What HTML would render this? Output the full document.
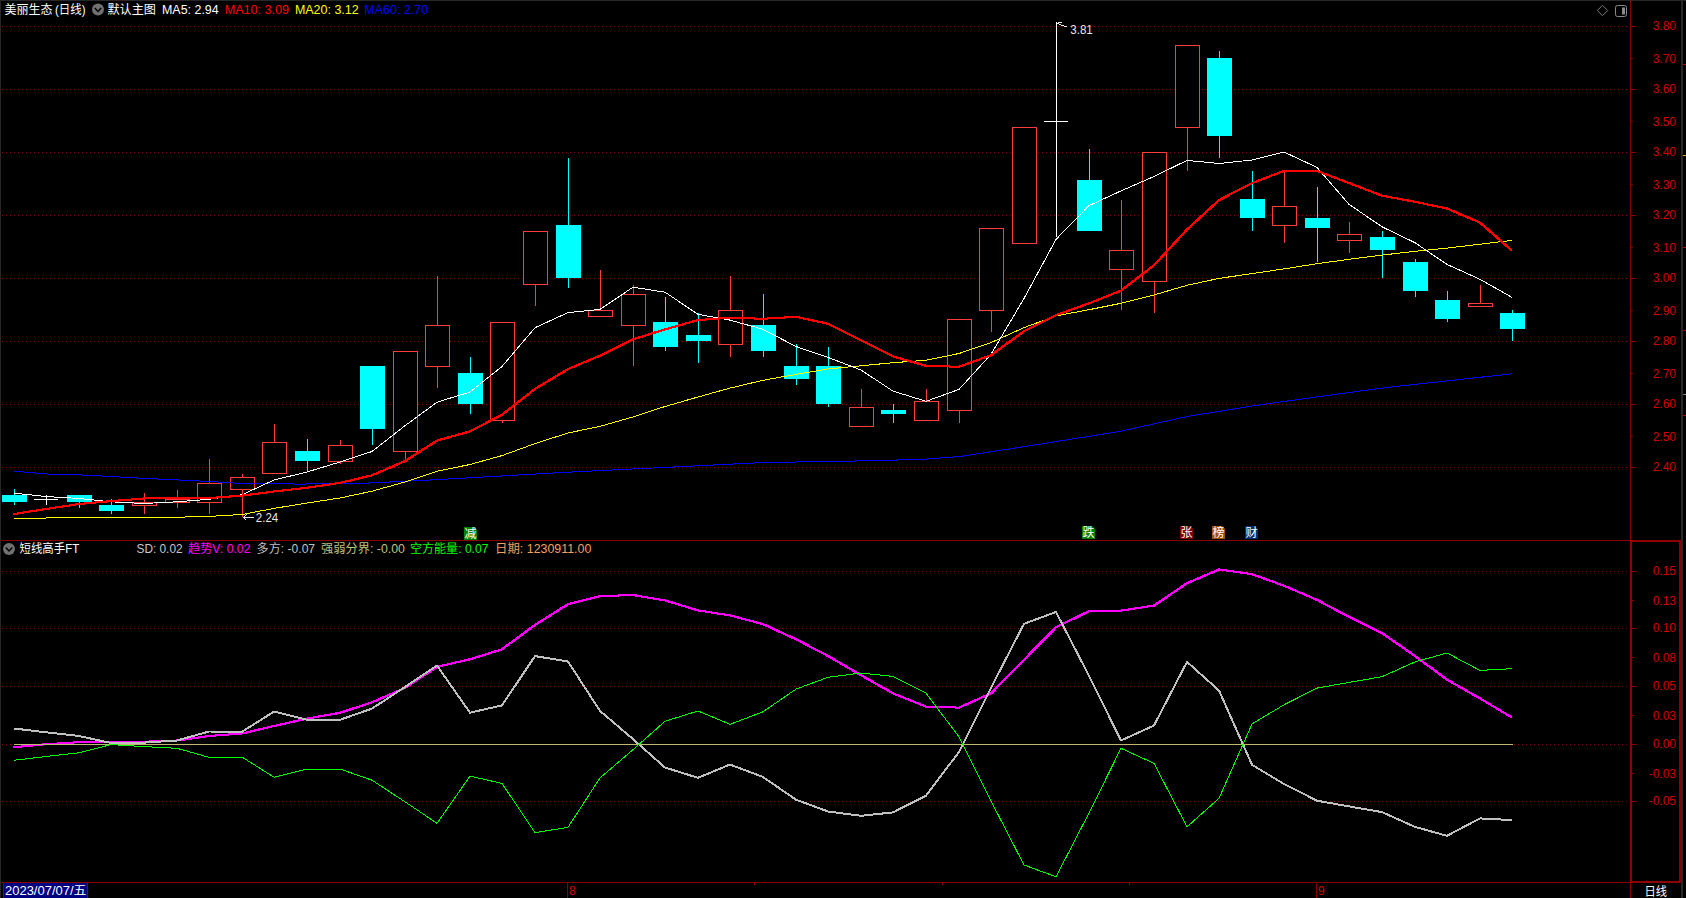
<!DOCTYPE html>
<html lang="zh"><head><meta charset="utf-8"><title>美丽生态 (日线)</title>
<style>html,body{margin:0;padding:0;background:#000;width:1686px;height:898px;overflow:hidden}svg{display:block}</style></head>
<body>
<svg width="1686" height="898" viewBox="0 0 1686 898" shape-rendering="crispEdges">
<rect width="1686" height="898" fill="#000"/>
<rect x="0" y="0" width="1686" height="1" fill="#282828"/>
<rect x="0" y="0" width="1" height="898" fill="#282828"/>
<rect x="1681" y="0" width="2" height="898" fill="#282828"/>
<line x1="2" x2="1628" y1="26.5" y2="26.5" stroke="#8c0000" stroke-width="1" stroke-dasharray="1 3"/>
<line x1="2" x2="1628" y1="89.5" y2="89.5" stroke="#8c0000" stroke-width="1" stroke-dasharray="1 3"/>
<line x1="2" x2="1628" y1="152.5" y2="152.5" stroke="#8c0000" stroke-width="1" stroke-dasharray="1 3"/>
<line x1="2" x2="1628" y1="215.5" y2="215.5" stroke="#8c0000" stroke-width="1" stroke-dasharray="1 3"/>
<line x1="2" x2="1628" y1="278.5" y2="278.5" stroke="#8c0000" stroke-width="1" stroke-dasharray="1 3"/>
<line x1="2" x2="1628" y1="341.5" y2="341.5" stroke="#8c0000" stroke-width="1" stroke-dasharray="1 3"/>
<line x1="2" x2="1628" y1="404.5" y2="404.5" stroke="#8c0000" stroke-width="1" stroke-dasharray="1 3"/>
<line x1="2" x2="1628" y1="467.5" y2="467.5" stroke="#8c0000" stroke-width="1" stroke-dasharray="1 3"/>
<line x1="2" x2="1628" y1="571.5" y2="571.5" stroke="#8c0000" stroke-width="1" stroke-dasharray="1 3"/>
<line x1="2" x2="1628" y1="628.5" y2="628.5" stroke="#8c0000" stroke-width="1" stroke-dasharray="1 3"/>
<line x1="2" x2="1628" y1="686.5" y2="686.5" stroke="#8c0000" stroke-width="1" stroke-dasharray="1 3"/>
<line x1="2" x2="1628" y1="744.5" y2="744.5" stroke="#8c0000" stroke-width="1" stroke-dasharray="1 3"/>
<line x1="2" x2="1628" y1="801.5" y2="801.5" stroke="#8c0000" stroke-width="1" stroke-dasharray="1 3"/>
<rect x="14" y="489" width="1" height="16" fill="#00ffff"/>
<rect x="2" y="495" width="25" height="7" fill="#00ffff"/>
<rect x="46" y="495" width="1" height="10" fill="#fff"/>
<rect x="34" y="499" width="24" height="1" fill="#fff"/>
<rect x="79" y="495" width="1" height="13" fill="#00ffff"/>
<rect x="67" y="495" width="25" height="7" fill="#00ffff"/>
<rect x="111" y="499" width="1" height="15" fill="#00ffff"/>
<rect x="99" y="505" width="25" height="6" fill="#00ffff"/>
<rect x="144" y="493" width="1" height="21" fill="#ff3c3c"/>
<rect x="132.5" y="502.5" width="24" height="3" fill="#000" stroke="#ff3c3c" stroke-width="1"/>
<rect x="177" y="490" width="1" height="18" fill="#ff3c3c"/>
<rect x="165.5" y="499.5" width="24" height="3" fill="#000" stroke="#ff3c3c" stroke-width="1"/>
<rect x="209" y="459" width="1" height="55" fill="#ff3c3c"/>
<rect x="197.5" y="483.5" width="24" height="19" fill="#000" stroke="#ff3c3c" stroke-width="1"/>
<rect x="242" y="474" width="1" height="43" fill="#ff3c3c"/>
<rect x="230.5" y="477.5" width="24" height="12" fill="#000" stroke="#ff3c3c" stroke-width="1"/>
<rect x="274" y="424" width="1" height="50" fill="#ff3c3c"/>
<rect x="262.5" y="442.5" width="24" height="31" fill="#000" stroke="#ff3c3c" stroke-width="1"/>
<rect x="307" y="439" width="1" height="33" fill="#00ffff"/>
<rect x="295" y="451" width="25" height="10" fill="#00ffff"/>
<rect x="340" y="440" width="1" height="24" fill="#ff3c3c"/>
<rect x="328.5" y="445.5" width="24" height="16" fill="#000" stroke="#ff3c3c" stroke-width="1"/>
<rect x="372" y="366" width="1" height="79" fill="#00ffff"/>
<rect x="360" y="366" width="25" height="63" fill="#00ffff"/>
<rect x="405" y="351" width="1" height="109" fill="#ff3c3c"/>
<rect x="393.5" y="351.5" width="24" height="100" fill="#000" stroke="#ff3c3c" stroke-width="1"/>
<rect x="437" y="276" width="1" height="112" fill="#ff3c3c"/>
<rect x="425.5" y="325.5" width="24" height="41" fill="#000" stroke="#ff3c3c" stroke-width="1"/>
<rect x="470" y="357" width="1" height="57" fill="#00ffff"/>
<rect x="458" y="373" width="25" height="31" fill="#00ffff"/>
<rect x="502" y="322" width="1" height="101" fill="#ff3c3c"/>
<rect x="490.5" y="322.5" width="24" height="98" fill="#000" stroke="#ff3c3c" stroke-width="1"/>
<rect x="535" y="231" width="1" height="75" fill="#ff3c3c"/>
<rect x="523.5" y="231.5" width="24" height="53" fill="#000" stroke="#ff3c3c" stroke-width="1"/>
<rect x="568" y="158" width="1" height="130" fill="#00ffff"/>
<rect x="556" y="225" width="25" height="53" fill="#00ffff"/>
<rect x="600" y="270" width="1" height="47" fill="#ff3c3c"/>
<rect x="588.5" y="310.5" width="24" height="6" fill="#000" stroke="#ff3c3c" stroke-width="1"/>
<rect x="633" y="285" width="1" height="81" fill="#ff3c3c"/>
<rect x="621.5" y="294.5" width="24" height="31" fill="#000" stroke="#ff3c3c" stroke-width="1"/>
<rect x="665" y="297" width="1" height="54" fill="#00ffff"/>
<rect x="653" y="322" width="25" height="25" fill="#00ffff"/>
<rect x="698" y="313" width="1" height="50" fill="#00ffff"/>
<rect x="686" y="335" width="25" height="6" fill="#00ffff"/>
<rect x="730" y="276" width="1" height="81" fill="#ff3c3c"/>
<rect x="718.5" y="310.5" width="24" height="34" fill="#000" stroke="#ff3c3c" stroke-width="1"/>
<rect x="763" y="294" width="1" height="63" fill="#00ffff"/>
<rect x="751" y="325" width="25" height="26" fill="#00ffff"/>
<rect x="796" y="344" width="1" height="41" fill="#00ffff"/>
<rect x="784" y="366" width="25" height="13" fill="#00ffff"/>
<rect x="828" y="347" width="1" height="60" fill="#00ffff"/>
<rect x="816" y="366" width="25" height="38" fill="#00ffff"/>
<rect x="861" y="389" width="1" height="38" fill="#ff3c3c"/>
<rect x="849.5" y="407.5" width="24" height="19" fill="#000" stroke="#ff3c3c" stroke-width="1"/>
<rect x="893" y="404" width="1" height="19" fill="#00ffff"/>
<rect x="881" y="410" width="25" height="4" fill="#00ffff"/>
<rect x="926" y="389" width="1" height="32" fill="#ff3c3c"/>
<rect x="914.5" y="401.5" width="24" height="19" fill="#000" stroke="#ff3c3c" stroke-width="1"/>
<rect x="959" y="319" width="1" height="104" fill="#ff3c3c"/>
<rect x="947.5" y="319.5" width="24" height="91" fill="#000" stroke="#ff3c3c" stroke-width="1"/>
<rect x="991" y="228" width="1" height="104" fill="#ff3c3c"/>
<rect x="979.5" y="228.5" width="24" height="82" fill="#000" stroke="#ff3c3c" stroke-width="1"/>
<rect x="1024" y="127" width="1" height="117" fill="#ff3c3c"/>
<rect x="1012.5" y="127.5" width="24" height="116" fill="#000" stroke="#ff3c3c" stroke-width="1"/>
<rect x="1056" y="22" width="1" height="215" fill="#fff"/>
<rect x="1044" y="121" width="24" height="1" fill="#fff"/>
<rect x="1089" y="149" width="1" height="82" fill="#00ffff"/>
<rect x="1077" y="180" width="25" height="51" fill="#00ffff"/>
<rect x="1121" y="200" width="1" height="110" fill="#ff3c3c"/>
<rect x="1109.5" y="250.5" width="24" height="19" fill="#000" stroke="#ff3c3c" stroke-width="1"/>
<rect x="1154" y="152" width="1" height="161" fill="#ff3c3c"/>
<rect x="1142.5" y="152.5" width="24" height="129" fill="#000" stroke="#ff3c3c" stroke-width="1"/>
<rect x="1187" y="45" width="1" height="126" fill="#ff3c3c"/>
<rect x="1175.5" y="45.5" width="24" height="82" fill="#000" stroke="#ff3c3c" stroke-width="1"/>
<rect x="1219" y="51" width="1" height="107" fill="#00ffff"/>
<rect x="1207" y="58" width="25" height="78" fill="#00ffff"/>
<rect x="1252" y="171" width="1" height="60" fill="#00ffff"/>
<rect x="1240" y="199" width="25" height="19" fill="#00ffff"/>
<rect x="1284" y="171" width="1" height="72" fill="#ff3c3c"/>
<rect x="1272.5" y="206.5" width="24" height="19" fill="#000" stroke="#ff3c3c" stroke-width="1"/>
<rect x="1317" y="187" width="1" height="75" fill="#00ffff"/>
<rect x="1305" y="218" width="25" height="10" fill="#00ffff"/>
<rect x="1349" y="222" width="1" height="31" fill="#ff3c3c"/>
<rect x="1337.5" y="234.5" width="24" height="6" fill="#000" stroke="#ff3c3c" stroke-width="1"/>
<rect x="1382" y="231" width="1" height="47" fill="#00ffff"/>
<rect x="1370" y="237" width="25" height="13" fill="#00ffff"/>
<rect x="1415" y="259" width="1" height="38" fill="#00ffff"/>
<rect x="1403" y="262" width="25" height="29" fill="#00ffff"/>
<rect x="1447" y="291" width="1" height="31" fill="#00ffff"/>
<rect x="1435" y="300" width="25" height="19" fill="#00ffff"/>
<rect x="1480" y="285" width="1" height="22" fill="#ff3c3c"/>
<rect x="1468.5" y="303.5" width="24" height="3" fill="#000" stroke="#ff3c3c" stroke-width="1"/>
<rect x="1512" y="310" width="1" height="31" fill="#00ffff"/>
<rect x="1500" y="313" width="25" height="16" fill="#00ffff"/>
<polyline points="14.0,471.2 47.0,474.0 80.0,474.9 112.0,476.5 145.0,478.5 177.0,479.9 210.0,481.5 242.0,483.5 275.0,483.7 300.0,484.1 367.0,483.1 434.0,479.8 501.0,476.0 560.0,472.6 693.0,466.0 760.0,462.7 827.0,461.4 877.0,460.7 927.0,459.0 961.0,456.4 1028.0,446.0 1120.0,431.4 1187.0,416.5 1254.0,405.7 1321.0,396.3 1388.0,387.3 1456.0,379.9 1512.0,373.8" fill="none" stroke="#0000ff" stroke-width="1" stroke-linejoin="round"/>
<polyline points="14.0,518.0 46.0,518.0 79.0,517.2 111.0,517.2 144.0,518.0 177.0,517.2 209.0,516.4 242.0,514.5 274.0,508.4 307.0,503.0 340.0,498.0 372.0,491.2 405.0,482.0 437.0,471.2 470.0,464.5 502.0,455.6 535.0,443.6 568.0,433.0 600.0,426.3 633.0,417.0 665.0,406.5 698.0,397.0 730.0,388.1 763.0,380.3 796.0,374.4 828.0,368.9 861.0,365.8 893.0,362.7 926.0,360.3 959.0,353.5 991.0,342.6 1024.0,327.6 1056.0,315.9 1089.0,309.7 1121.0,303.3 1154.0,295.0 1187.0,285.3 1219.0,278.4 1252.0,273.6 1284.0,268.9 1317.0,263.7 1349.0,259.3 1382.0,255.1 1415.0,251.3 1447.0,248.1 1480.0,244.2 1512.0,240.4" fill="none" stroke="#ffff00" stroke-width="1" stroke-linejoin="round"/>
<polyline points="14.0,493.2 46.0,496.5 79.0,498.5 111.0,501.8 144.0,503.5 177.0,501.8 209.0,499.3 242.0,494.8 274.0,480.0 307.0,472.0 340.0,462.0 372.0,451.5 405.0,425.7 437.0,402.2 470.0,392.0 502.0,366.5 535.0,327.7 568.0,312.6 600.0,309.4 633.0,287.2 665.0,292.2 698.0,314.3 730.0,320.1 763.0,329.3 796.0,346.5 828.0,357.4 861.0,370.0 893.0,391.1 926.0,401.3 959.0,389.4 991.0,354.3 1024.0,298.5 1056.0,239.4 1089.0,205.6 1121.0,190.9 1154.0,176.5 1187.0,160.4 1219.0,163.5 1252.0,160.0 1284.0,152.0 1317.0,167.4 1349.0,204.3 1382.0,226.8 1415.0,242.7 1447.0,264.4 1480.0,279.3 1512.0,297.4" fill="none" stroke="#ffffff" stroke-width="1" stroke-linejoin="round"/>
<polyline points="13.5,513.5 45.5,508.5 78.5,503.5 110.5,500.6 143.5,498.0 176.5,497.6 208.5,497.6 241.5,495.1 273.5,491.0 306.5,487.3 339.5,482.4 371.5,474.8 404.5,460.6 436.5,440.1 469.5,430.9 501.5,414.2 534.5,388.5 567.5,368.6 599.5,355.2 632.5,338.9 664.5,328.9 697.5,319.6 729.5,317.1 762.5,318.3 795.5,316.3 827.5,323.3 860.5,339.7 892.5,355.9 925.5,365.3 958.5,366.3 990.5,354.7 1023.5,330.8 1055.5,314.6 1088.5,302.9 1120.5,290.2 1153.5,264.8 1186.5,229.1 1218.5,199.6 1251.5,182.6 1283.5,170.4 1316.5,170.4 1348.5,182.5 1381.5,195.2 1414.5,201.3 1446.5,208.0 1479.5,222.1 1511.5,250.2" fill="none" stroke="#ff0000" stroke-width="1"/>
<polyline points="13.5,514.5 45.5,509.5 78.5,504.5 110.5,501.6 143.5,499.0 176.5,498.6 208.5,498.6 241.5,496.1 273.5,492.0 306.5,488.3 339.5,483.4 371.5,475.8 404.5,461.6 436.5,441.1 469.5,431.9 501.5,415.2 534.5,389.5 567.5,369.6 599.5,356.2 632.5,339.9 664.5,329.9 697.5,320.6 729.5,318.1 762.5,319.3 795.5,317.3 827.5,324.3 860.5,340.7 892.5,356.9 925.5,366.3 958.5,367.3 990.5,355.7 1023.5,331.8 1055.5,315.6 1088.5,303.9 1120.5,291.2 1153.5,265.8 1186.5,230.1 1218.5,200.6 1251.5,183.6 1283.5,171.4 1316.5,171.4 1348.5,183.5 1381.5,196.2 1414.5,202.3 1446.5,209.0 1479.5,223.1 1511.5,251.2" fill="none" stroke="#ff0000" stroke-width="1"/>
<polyline points="14.5,513.5 46.5,508.5 79.5,503.5 111.5,500.6 144.5,498.0 177.5,497.6 209.5,497.6 242.5,495.1 274.5,491.0 307.5,487.3 340.5,482.4 372.5,474.8 405.5,460.6 437.5,440.1 470.5,430.9 502.5,414.2 535.5,388.5 568.5,368.6 600.5,355.2 633.5,338.9 665.5,328.9 698.5,319.6 730.5,317.1 763.5,318.3 796.5,316.3 828.5,323.3 861.5,339.7 893.5,355.9 926.5,365.3 959.5,366.3 991.5,354.7 1024.5,330.8 1056.5,314.6 1089.5,302.9 1121.5,290.2 1154.5,264.8 1187.5,229.1 1219.5,199.6 1252.5,182.6 1284.5,170.4 1317.5,170.4 1349.5,182.5 1382.5,195.2 1415.5,201.3 1447.5,208.0 1480.5,222.1 1512.5,250.2" fill="none" stroke="#ff0000" stroke-width="1"/>
<polyline points="14.5,514.5 46.5,509.5 79.5,504.5 111.5,501.6 144.5,499.0 177.5,498.6 209.5,498.6 242.5,496.1 274.5,492.0 307.5,488.3 340.5,483.4 372.5,475.8 405.5,461.6 437.5,441.1 470.5,431.9 502.5,415.2 535.5,389.5 568.5,369.6 600.5,356.2 633.5,339.9 665.5,329.9 698.5,320.6 730.5,318.1 763.5,319.3 796.5,317.3 828.5,324.3 861.5,340.7 893.5,356.9 926.5,366.3 959.5,367.3 991.5,355.7 1024.5,331.8 1056.5,315.6 1089.5,303.9 1121.5,291.2 1154.5,265.8 1187.5,230.1 1219.5,200.6 1252.5,183.6 1284.5,171.4 1317.5,171.4 1349.5,183.5 1382.5,196.2 1415.5,202.3 1447.5,209.0 1480.5,223.1 1512.5,251.2" fill="none" stroke="#ff0000" stroke-width="1"/>
<g stroke="#e8e8e8" stroke-width="1" fill="none"><path d="M243.5 517.5H254M243.5 517.5l3-3M243.5 517.5l3 3"/><path d="M1057.5 23.5l2-1.5 2 0M1057.5 23.5l9 3.5"/></g>
<rect x="1" y="540" width="1680" height="1" fill="#860000"/>
<rect x="1630" y="1" width="1" height="897" fill="#860000"/>
<rect x="1" y="882" width="1680" height="1" fill="#860000"/>
<rect x="1631" y="541" width="49" height="341" fill="none" stroke="#900000" stroke-width="2"/>
<rect x="1680" y="540" width="1" height="343" fill="#860000"/>
<rect x="1631" y="26" width="5" height="1" fill="#860000"/>
<rect x="1631" y="58" width="2" height="1" fill="#860000"/>
<rect x="1631" y="89" width="5" height="1" fill="#860000"/>
<rect x="1631" y="121" width="2" height="1" fill="#860000"/>
<rect x="1631" y="152" width="5" height="1" fill="#860000"/>
<rect x="1631" y="184" width="2" height="1" fill="#860000"/>
<rect x="1631" y="215" width="5" height="1" fill="#860000"/>
<rect x="1631" y="247" width="2" height="1" fill="#860000"/>
<rect x="1631" y="278" width="5" height="1" fill="#860000"/>
<rect x="1631" y="310" width="2" height="1" fill="#860000"/>
<rect x="1631" y="341" width="5" height="1" fill="#860000"/>
<rect x="1631" y="373" width="2" height="1" fill="#860000"/>
<rect x="1631" y="404" width="5" height="1" fill="#860000"/>
<rect x="1631" y="436" width="2" height="1" fill="#860000"/>
<rect x="1631" y="467" width="5" height="1" fill="#860000"/>
<rect x="1632" y="571" width="5" height="1" fill="#860000"/>
<rect x="1632" y="600" width="2" height="1" fill="#860000"/>
<rect x="1632" y="628" width="5" height="1" fill="#860000"/>
<rect x="1632" y="657" width="2" height="1" fill="#860000"/>
<rect x="1632" y="686" width="5" height="1" fill="#860000"/>
<rect x="1632" y="715" width="2" height="1" fill="#860000"/>
<rect x="1632" y="744" width="5" height="1" fill="#860000"/>
<rect x="1632" y="773" width="2" height="1" fill="#860000"/>
<rect x="1632" y="801" width="5" height="1" fill="#860000"/>
<polyline points="13.5,746.7 45.5,743.7 78.5,741.7 110.5,741.2 143.5,741.2 176.5,740.0 208.5,735.5 241.5,733.0 273.5,725.5 306.5,718.1 339.5,712.3 371.5,701.8 404.5,687.5 436.5,666.3 469.5,658.8 501.5,648.8 534.5,624.4 567.5,603.7 599.5,595.7 632.5,594.5 664.5,599.9 697.5,609.9 729.5,614.9 762.5,623.6 795.5,638.8 827.5,655.5 860.5,674.7 892.5,692.9 925.5,706.1 958.5,707.1 990.5,692.9 1023.5,659.3 1055.5,626.8 1088.5,610.6 1120.5,610.1 1153.5,605.1 1186.5,582.7 1218.5,569.0 1251.5,573.7 1283.5,585.2 1316.5,599.4 1348.5,616.4 1381.5,632.6 1414.5,655.5 1446.5,679.2 1479.5,697.9 1511.5,717.1" fill="none" stroke="#ff00ff" stroke-width="1"/>
<polyline points="13.5,747.7 45.5,744.7 78.5,742.7 110.5,742.2 143.5,742.2 176.5,741.0 208.5,736.5 241.5,734.0 273.5,726.5 306.5,719.1 339.5,713.3 371.5,702.8 404.5,688.5 436.5,667.3 469.5,659.8 501.5,649.8 534.5,625.4 567.5,604.7 599.5,596.7 632.5,595.5 664.5,600.9 697.5,610.9 729.5,615.9 762.5,624.6 795.5,639.8 827.5,656.5 860.5,675.7 892.5,693.9 925.5,707.1 958.5,708.1 990.5,693.9 1023.5,660.3 1055.5,627.8 1088.5,611.6 1120.5,611.1 1153.5,606.1 1186.5,583.7 1218.5,570.0 1251.5,574.7 1283.5,586.2 1316.5,600.4 1348.5,617.4 1381.5,633.6 1414.5,656.5 1446.5,680.2 1479.5,698.9 1511.5,718.1" fill="none" stroke="#ff00ff" stroke-width="1"/>
<polyline points="14.5,746.7 46.5,743.7 79.5,741.7 111.5,741.2 144.5,741.2 177.5,740.0 209.5,735.5 242.5,733.0 274.5,725.5 307.5,718.1 340.5,712.3 372.5,701.8 405.5,687.5 437.5,666.3 470.5,658.8 502.5,648.8 535.5,624.4 568.5,603.7 600.5,595.7 633.5,594.5 665.5,599.9 698.5,609.9 730.5,614.9 763.5,623.6 796.5,638.8 828.5,655.5 861.5,674.7 893.5,692.9 926.5,706.1 959.5,707.1 991.5,692.9 1024.5,659.3 1056.5,626.8 1089.5,610.6 1121.5,610.1 1154.5,605.1 1187.5,582.7 1219.5,569.0 1252.5,573.7 1284.5,585.2 1317.5,599.4 1349.5,616.4 1382.5,632.6 1415.5,655.5 1447.5,679.2 1480.5,697.9 1512.5,717.1" fill="none" stroke="#ff00ff" stroke-width="1"/>
<polyline points="14.5,747.7 46.5,744.7 79.5,742.7 111.5,742.2 144.5,742.2 177.5,741.0 209.5,736.5 242.5,734.0 274.5,726.5 307.5,719.1 340.5,713.3 372.5,702.8 405.5,688.5 437.5,667.3 470.5,659.8 502.5,649.8 535.5,625.4 568.5,604.7 600.5,596.7 633.5,595.5 665.5,600.9 698.5,610.9 730.5,615.9 763.5,624.6 796.5,639.8 828.5,656.5 861.5,675.7 893.5,693.9 926.5,707.1 959.5,708.1 991.5,693.9 1024.5,660.3 1056.5,627.8 1089.5,611.6 1121.5,611.1 1154.5,606.1 1187.5,583.7 1219.5,570.0 1252.5,574.7 1284.5,586.2 1317.5,600.4 1349.5,617.4 1382.5,633.6 1415.5,656.5 1447.5,680.2 1480.5,698.9 1512.5,718.1" fill="none" stroke="#ff00ff" stroke-width="1"/>
<polyline points="14.0,728.5 46.0,732.3 79.0,736.0 111.0,743.0 144.0,742.6 177.0,740.5 209.0,731.5 242.0,731.8 274.0,711.6 307.0,719.8 340.0,719.8 372.0,708.6 405.0,687.0 437.0,665.5 470.0,712.7 502.0,705.4 535.0,656.1 568.0,661.5 600.0,710.9 633.0,739.1 665.0,767.5 698.0,777.8 730.0,764.5 763.0,777.0 796.0,799.7 828.0,811.5 861.0,815.8 893.0,812.4 926.0,795.7 959.0,751.9 991.0,687.8 1024.0,623.8 1056.0,612.0 1089.0,675.8 1121.0,740.5 1154.0,725.5 1187.0,661.9 1219.0,690.5 1252.0,764.8 1284.0,784.0 1317.0,800.7 1349.0,806.4 1382.0,812.1 1415.0,826.9 1447.0,835.8 1480.0,818.4 1512.0,820.1" fill="none" stroke="#c0c0c0" stroke-width="2" stroke-linejoin="round"/>
<rect x="14" y="744" width="1499" height="1" fill="#c0b870"/>
<polyline points="14.0,760.3 46.0,756.5 79.0,752.8 111.0,744.6 144.0,746.6 177.0,748.3 209.0,757.3 242.0,757.0 274.0,777.2 307.0,769.0 340.0,769.0 372.0,780.2 405.0,801.8 437.0,823.3 470.0,776.1 502.0,783.4 535.0,832.7 568.0,827.3 600.0,777.9 633.0,749.7 665.0,721.3 698.0,711.0 730.0,724.3 763.0,711.8 796.0,689.1 828.0,677.3 861.0,673.0 893.0,676.4 926.0,693.1 959.0,736.9 991.0,801.0 1024.0,865.0 1056.0,876.8 1089.0,813.0 1121.0,748.3 1154.0,763.3 1187.0,826.9 1219.0,798.3 1252.0,724.0 1284.0,704.8 1317.0,688.1 1349.0,682.4 1382.0,676.7 1415.0,661.9 1447.0,653.0 1480.0,670.4 1512.0,668.7" fill="none" stroke="#00ff00" stroke-width="1" stroke-linejoin="round"/>
<rect x="567" y="883" width="1" height="15" fill="#860000"/>
<rect x="1316" y="883" width="1" height="15" fill="#860000"/>
<rect x="754" y="883" width="1" height="2" fill="#860000"/>
<rect x="942" y="883" width="1" height="2" fill="#860000"/>
<rect x="1129" y="883" width="1" height="2" fill="#860000"/>
<rect x="1683" y="64" width="3" height="1" fill="#c00000"/>
<rect x="1683" y="155" width="3" height="1" fill="#e0a000"/>
<rect x="1683" y="247" width="3" height="1" fill="#c00000"/>
<rect x="1683" y="330" width="3" height="1" fill="#c00000"/>
<rect x="1683" y="394" width="3" height="1" fill="#808080"/>
<rect x="1683" y="415" width="3" height="1" fill="#c00000"/>
<rect x="3" y="883" width="85" height="15" fill="#000080" stroke="none"/>
<rect x="3" y="883" width="1" height="15" fill="#860000"/><rect x="87" y="883" width="1" height="15" fill="#860000"/>
<g shape-rendering="auto">
<circle cx="98" cy="9.5" r="6" fill="#707070"/><path d="M94.8 8l3.2 3.4 3.2-3.4" stroke="#000" stroke-width="1.4" fill="none"/>
<circle cx="9" cy="549" r="6" fill="#707070"/><path d="M5.8 547.5l3.2 3.4 3.2-3.4" stroke="#000" stroke-width="1.4" fill="none"/>
<path d="M1602.5 5.3l5.2 5.2-5.2 5.2-5.2-5.2z" fill="none" stroke="#7c7c7c" stroke-width="1"/>
<rect x="1615.5" y="5.5" width="11" height="11" rx="2" fill="none" stroke="#8a8a8a" stroke-width="1"/><rect x="1622" y="7.5" width="3" height="7" fill="#8a8a8a"/>
</g>
<g font-family="'Liberation Sans','Noto Sans CJK SC',sans-serif" font-size="12" shape-rendering="auto">
<path d="M464 527h10l3 3v10h-13z" fill="#008000"/>
<text x="470.5" y="538" font-size="12" fill="#fff" text-anchor="middle" shape-rendering="auto">减</text>
<path d="M1082 526h10l3 3v10h-13z" fill="#008000"/>
<text x="1088.5" y="537" font-size="12" fill="#fff" text-anchor="middle" shape-rendering="auto">跌</text>
<path d="M1180 526h10l3 3v10h-13z" fill="#800000"/>
<text x="1186.5" y="537" font-size="12" fill="#fff" text-anchor="middle" shape-rendering="auto">张</text>
<path d="M1212 526h10l3 3v10h-13z" fill="#a05000"/>
<text x="1218.5" y="537" font-size="12" fill="#fff" text-anchor="middle" shape-rendering="auto">榜</text>
<path d="M1245 526h10l3 3v10h-13z" fill="#003070"/>
<text x="1251.5" y="537" font-size="12" fill="#fff" text-anchor="middle" shape-rendering="auto">财</text>
<text x="4.5" y="14" fill="#fff" textLength="48" lengthAdjust="spacingAndGlyphs">美丽生态</text>
<text x="55" y="14" fill="#fff" textLength="30.5" lengthAdjust="spacingAndGlyphs">(日线)</text>
<text x="107.5" y="14" fill="#fff" textLength="48.5" lengthAdjust="spacingAndGlyphs">默认主图</text>
<text x="162" y="14" fill="#fff" textLength="56.7" lengthAdjust="spacingAndGlyphs">MA5: 2.94</text>
<text x="224.7" y="14" fill="#ff0000" textLength="64.4" lengthAdjust="spacingAndGlyphs">MA10: 3.09</text>
<text x="294.9" y="14" fill="#ffff00" textLength="63.8" lengthAdjust="spacingAndGlyphs">MA20: 3.12</text>
<text x="364.2" y="14" fill="#0000ff" textLength="64.1" lengthAdjust="spacingAndGlyphs">MA60: 2.70</text>
<text x="19.5" y="553" fill="#fff" textLength="59.7" lengthAdjust="spacingAndGlyphs">短线高手FT</text>
<text x="136.5" y="553" fill="#c8c8c8" textLength="46.1" lengthAdjust="spacingAndGlyphs">SD: 0.02</text>
<text x="188" y="553" fill="#ff00ff" textLength="62.4" lengthAdjust="spacingAndGlyphs">趋势V: 0.02</text>
<text x="256.6" y="553" fill="#c0c0c0" textLength="58.5" lengthAdjust="spacingAndGlyphs">多方: -0.07</text>
<text x="320.9" y="553" fill="#c0c080" textLength="83.9" lengthAdjust="spacingAndGlyphs">强弱分界: -0.00</text>
<text x="409.9" y="553" fill="#00ff00" textLength="78.5" lengthAdjust="spacingAndGlyphs">空方能量: 0.07</text>
<text x="495.1" y="553" fill="#f0a060" textLength="96.2" lengthAdjust="spacingAndGlyphs">日期: 1230911.00</text>
<text x="1676" y="30.0" fill="#d00000" text-anchor="end">3.80</text>
<text x="1676" y="63.0" fill="#d00000" text-anchor="end">3.70</text>
<text x="1676" y="93.0" fill="#d00000" text-anchor="end">3.60</text>
<text x="1676" y="126.0" fill="#d00000" text-anchor="end">3.50</text>
<text x="1676" y="156.0" fill="#d00000" text-anchor="end">3.40</text>
<text x="1676" y="189.0" fill="#d00000" text-anchor="end">3.30</text>
<text x="1676" y="219.0" fill="#d00000" text-anchor="end">3.20</text>
<text x="1676" y="252.0" fill="#d00000" text-anchor="end">3.10</text>
<text x="1676" y="282.0" fill="#d00000" text-anchor="end">3.00</text>
<text x="1676" y="315.0" fill="#d00000" text-anchor="end">2.90</text>
<text x="1676" y="345.0" fill="#d00000" text-anchor="end">2.80</text>
<text x="1676" y="378.0" fill="#d00000" text-anchor="end">2.70</text>
<text x="1676" y="408.0" fill="#d00000" text-anchor="end">2.60</text>
<text x="1676" y="441.0" fill="#d00000" text-anchor="end">2.50</text>
<text x="1676" y="471.0" fill="#d00000" text-anchor="end">2.40</text>
<text x="1676" y="575" fill="#d00000" text-anchor="end">0.15</text>
<text x="1676" y="605" fill="#d00000" text-anchor="end">0.13</text>
<text x="1676" y="632" fill="#d00000" text-anchor="end">0.10</text>
<text x="1676" y="662" fill="#d00000" text-anchor="end">0.08</text>
<text x="1676" y="690" fill="#d00000" text-anchor="end">0.05</text>
<text x="1676" y="720" fill="#d00000" text-anchor="end">0.03</text>
<text x="1676" y="748" fill="#d00000" text-anchor="end">0.00</text>
<text x="1676" y="778" fill="#d00000" text-anchor="end">-0.03</text>
<text x="1676" y="805" fill="#d00000" text-anchor="end">-0.05</text>
<text x="255.8" y="521.7" fill="#e8e8e8" textLength="22.4" lengthAdjust="spacingAndGlyphs">2.24</text>
<text x="1070.3" y="34.3" fill="#e8e8e8" textLength="22.5" lengthAdjust="spacingAndGlyphs">3.81</text>
<text x="5" y="894.5" fill="#fff" textLength="81.5" lengthAdjust="spacingAndGlyphs">2023/07/07/五</text>
<text x="569" y="895" fill="#d00000">8</text>
<text x="1318" y="895" fill="#d00000">9</text>
<text x="1644.5" y="895.5" fill="#fff" textLength="22.5" lengthAdjust="spacingAndGlyphs">日线</text>
</g>
</svg>
</body></html>
